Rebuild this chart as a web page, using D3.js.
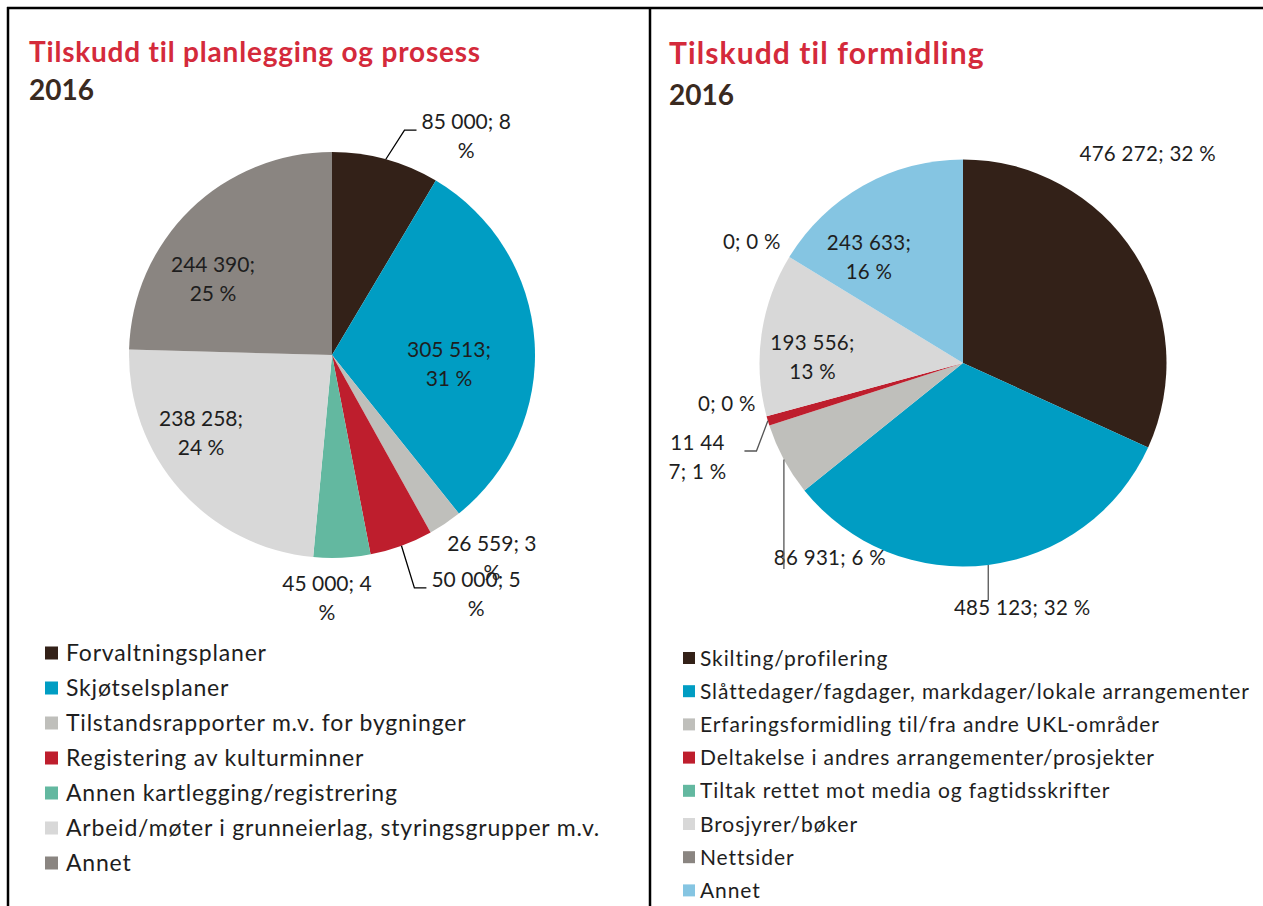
<!DOCTYPE html>
<html>
<head>
<meta charset="utf-8">
<script src="https://cdn.jsdelivr.net/npm/d3@7/dist/d3.min.js"></script>
<style>
  body { margin: 0; background: #fff; }
  svg { display: block; font-family: Lato, "Open Sans", sans-serif; }
</style>
</head>
<body>
<div id="chart"></div>
<script>
var width = 1263;
var height = 906;

// data, left chart
var leftTitle = "Tilskudd til planlegging og prosess";
var leftYear = "2016";
var leftCategories = ["Forvaltningsplaner", "Skjøtselsplaner", "Tilstandsrapporter m.v. for bygninger",
  "Registering av kulturminner", "Annen kartlegging/registrering",
  "Arbeid/møter i grunneierlag, styringsgrupper m.v.", "Annet"];
var leftValues = [85000, 305513, 26559, 50000, 45000, 238258, 244390];
var leftPercents = [8, 31, 3, 5, 4, 24, 25];

// data, right chart
var rightTitle = "Tilskudd til formidling";
var rightYear = "2016";
var rightCategories = ["Skilting/profilering", "Slåttedager/fagdager, markdager/lokale arrangementer",
  "Erfaringsformidling til/fra andre UKL-områder", "Deltakelse i andres arrangementer/prosjekter",
  "Tiltak rettet mot media og fagtidsskrifter", "Brosjyrer/bøker", "Nettsider", "Annet"];
var rightValues = [476272, 485123, 86931, 11447, 0, 193556, 0, 243633];
var rightPercents = [32, 32, 6, 1, 0, 13, 0, 16];

var leftColors = ["#332118", "#009dc3", "#bfbfbb", "#be1e2d", "#63b8a0", "#d8d8d8", "#8a8581"];
var rightColors = ["#332118", "#009dc3", "#bfbfbb", "#be1e2d", "#63b8a0", "#d8d8d8", "#8a8581", "#85c5e2"];

// label placement: angle (deg, clockwise from top) and distance as share of radius
var leftLabelAt = [[31.5, 1.265], [94.4, 0.578], [141.8, 1.273], [148.9, 1.374], [181.2, 1.197], [239.2, 0.751], [302.6, 0.696]];
var leftSplit = [9, 8, 9, 9, 9, 8, 8];
var rightLabelAt = [[41.4, 1.373], [166.4, 1.236], [214.4, 1.158], [250.5, 1.384], [260.3, 1.177], [272.3, 0.740], [299.9, 1.197], [318.4, 0.696]];
var rightSplit = [0, 0, 0, 5, 0, 8, 0, 8];

var svg = d3.select("#chart").append("svg")
  .attr("width", width)
  .attr("height", height);

svg.append("rect").attr("width", width).attr("height", height).attr("fill", "#fff");

// frame lines
svg.append("line").attr("x1", 7).attr("x2", width).attr("y1", 8).attr("y2", 8)
  .attr("stroke", "#000").attr("stroke-width", 2.5);
svg.append("line").attr("x1", 8).attr("x2", 8).attr("y1", 7).attr("y2", height)
  .attr("stroke", "#000").attr("stroke-width", 2.5);
svg.append("line").attr("x1", 650).attr("x2", 650).attr("y1", 7).attr("y2", height)
  .attr("stroke", "#000").attr("stroke-width", 2.5);

var fmt = function(v) {
  return d3.format(",")(v).replace(/,/g, " ");
};

function drawPie(opt) {
  var g = svg.append("g");

  g.append("text")
    .attr("x", opt.titleX).attr("y", opt.titleY)
    .attr("fill", "#d42a3b")
    .attr("font-weight", "bold")
    .attr("font-size", opt.titleSize)
    .attr("letter-spacing", opt.titleSpacing)
    .text(opt.title);
  g.append("text")
    .attr("x", opt.titleX).attr("y", opt.yearY)
    .attr("fill", "#3a2a1f")
    .attr("font-weight", "bold")
    .attr("font-size", opt.yearSize)
    .text(opt.year);

  var pie = d3.pie().sort(null).value(function(d) { return d; });
  var arcs = pie(opt.values);
  var arc = d3.arc().innerRadius(0).outerRadius(opt.r);

  var pg = g.append("g").attr("transform", "translate(" + opt.cx + "," + opt.cy + ")");
  pg.selectAll("path.slice")
    .data(arcs)
    .enter()
    .append("path")
    .attr("class", "slice")
    .attr("d", arc)
    .attr("fill", function(d, i) { return opt.colors[i]; });

  function polar(a, rr) {
    var t = a * Math.PI / 180;
    return [rr * Math.sin(t), -rr * Math.cos(t)];
  }

  var lh = opt.lineHeight;
  arcs.forEach(function(d, i) {
    var txt = fmt(opt.values[i]) + "; " + opt.percents[i] + " %";
    var lines = [txt];
    var s = opt.split[i];
    if (s > 0) lines = [txt.slice(0, s).trim(), txt.slice(s).trim()];
    var p = polar(opt.labelAt[i][0], opt.labelAt[i][1] * opt.r);
    var b1 = p[1] - (lines.length - 1) * lh / 2 + 7.5;
    var t = pg.append("text")
      .attr("text-anchor", "middle")
      .attr("font-size", opt.labelSize)
      .attr("letter-spacing", opt.labelSpacing)
      .attr("fill", "#1e1e1e");
    lines.forEach(function(l, j) {
      t.append("tspan").attr("x", p[0]).attr("y", b1 + j * lh).text(l);
    });

    var lead = opt.leaders[i];
    if (!lead) return;
    var bb = t.node().getBBox();
    var mid = (d.startAngle + d.endAngle) / 2 * 180 / Math.PI;
    var st = polar(mid, opt.r);
    var pts;
    if (lead == "elbow") {
      var side = p[0] > st[0] ? 1 : -1;
      var ey = p[1] - 6;
      var ex = side > 0 ? bb.x - opt.gap : bb.x + bb.width + opt.gap;
      pts = [st, [ex - side * 12, ey], [ex, ey]];
    } else if (lead == "top") {
      pts = [st, [st[0], bb.y + 5]];
    } else {
      pts = [st, [st[0], bb.y + bb.height]];
    }
    pg.append("path")
      .attr("d", d3.line()(pts))
      .attr("fill", "none")
      .attr("stroke", opt.leaderColor)
      .attr("stroke-width", 1.3);
  });

  // legend
  var lg = g.append("g").selectAll("g")
    .data(opt.categories)
    .enter()
    .append("g")
    .attr("transform", function(d, i) {
      return "translate(" + opt.legX + "," + (opt.legY + i * opt.legStep) + ")";
    });
  lg.append("rect")
    .attr("x", 0).attr("y", -opt.sq / 2)
    .attr("width", opt.sq).attr("height", opt.sq)
    .attr("fill", function(d, i) { return opt.colors[i]; });
  lg.append("text")
    .attr("x", opt.legTextDx)
    .attr("y", opt.legSize * 0.36)
    .attr("font-size", opt.legSize)
    .attr("letter-spacing", opt.legSpacing)
    .attr("fill", "#1e1e1e")
    .text(function(d) { return d; });
}

drawPie({
  title: leftTitle, year: leftYear, titleX: 29, titleY: 62, yearY: 100,
  titleSize: 28, titleSpacing: 0.8, yearSize: 28,
  values: leftValues, percents: leftPercents, categories: leftCategories, colors: leftColors,
  cx: 332, cy: 355, r: 203,
  labelAt: leftLabelAt, split: leftSplit, labelSize: 21, labelSpacing: 0, lineHeight: 28.5,
  leaders: {0: "elbow", 3: "elbow"}, leaderColor: "#000", gap: 5,
  legX: 45, legY: 653, legStep: 35, sq: 13, legTextDx: 21, legSize: 23, legSpacing: 0.8
});

drawPie({
  title: rightTitle, year: rightYear, titleX: 669, titleY: 64, yearY: 105,
  titleSize: 30, titleSpacing: 1.1, yearSize: 28,
  values: rightValues, percents: rightPercents, categories: rightCategories, colors: rightColors,
  cx: 963, cy: 363, r: 203.5,
  labelAt: rightLabelAt, split: rightSplit, labelSize: 20.5, labelSpacing: 0.3, lineHeight: 28.5,
  leaders: {1: "top", 2: "bottom", 3: "elbow"}, leaderColor: "#555", gap: 18,
  legX: 683, legY: 658, legStep: 33.2, sq: 12, legTextDx: 17, legSize: 21, legSpacing: 0.9
});
</script>
</body>
</html>
